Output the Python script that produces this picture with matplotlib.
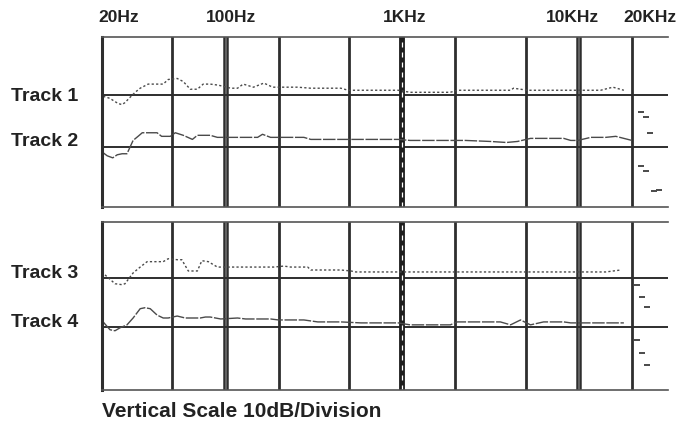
import numpy as np
import matplotlib
matplotlib.use('Agg')
import matplotlib.pyplot as plt
from matplotlib.transforms import blended_transform_factory

# frequency response readings, dB relative to each track's reference line
track1_f = [20.3, 21.4, 22.2, 24.7, 26, 27, 28.8, 30.8, 32.9, 36.5, 40, 44.4, 47.4, 53.3, 57.7,
            63.2, 69.3, 74.8, 82, 91, 107, 117, 126, 144, 165, 185, 214, 256, 304, 369, 450,
            495, 547, 712, 950, 1110, 1443, 1875, 2054, 2600, 3600, 4110, 4270, 5130, 6930,
            9000, 10680, 13300, 15600, 18000]
track1_db = [-0.2, -0.4, -0.6, -1.6, -1.8, -1.4, -0.4, 0.6, 1.4, 2.2, 2.2, 2.2, 3.1, 3.3, 2.7,
             1.2, 1.2, 2.2, 2.2, 2.0, 1.4, 1.4, 2.2, 1.6, 2.4, 1.6, 1.6, 1.6, 1.4, 1.4, 1.4,
             1.0, 1.0, 1.0, 1.0, 0.6, 0.6, 0.6, 1.0, 1.0, 1.0, 1.0, 1.4, 1.0, 1.0,
             1.0, 1.0, 1.0, 1.6, 1.0]
track1_tail_f = [22500, 24000, 25300]
track1_tail_db = [-3.3, -4.3, -7.3]

track2_f = [20.3, 21.4, 23, 24.4, 26, 27.7, 30, 32, 33.8, 37.5, 41, 43.5, 48.7, 52, 57.7, 65,
            69.3, 77, 82, 90, 97, 111, 130, 152, 162, 180, 220, 256, 278, 304, 369, 450, 547,
            712, 950, 1110, 1443, 1875, 2280, 3160, 3900, 4500, 5330, 6930, 8220, 9000, 9870,
            11700, 14200, 16200, 18000, 20000]
track2_db = [-1.2, -1.8, -2.2, -1.6, -1.4, -1.4, 1.2, 2.0, 2.7, 2.7, 2.7, 2.0, 2.0, 2.7, 2.2, 1.4,
             2.2, 2.2, 2.2, 1.8, 1.8, 1.8, 1.8, 1.8, 2.4, 1.8, 1.8, 1.8, 1.8, 1.4, 1.4, 1.4, 1.4,
             1.4, 1.4, 1.2, 1.2, 1.2, 1.2, 1.0, 0.8, 1.0, 1.6, 1.6, 1.6, 1.2, 1.2,
             1.8, 1.8, 2.0, 1.6, 1.2]
track2_tail_f = [22500, 24000, 26700, 28500]
track2_tail_db = [-3.7, -4.7, -8.6, -8.4]

track3_f = [20.8, 23.7, 26, 27, 30, 32.9, 36, 40, 44.4, 47.4, 53.3, 56.6, 61.6, 69.3, 73.5, 80,
            90, 97, 111, 119, 133, 158, 188, 214, 234, 292, 304, 369, 450, 513, 547, 712, 950,
            1110, 1875, 2135, 3160, 4680, 5330, 7400, 9870, 11700, 14200, 17300]
track3_db = [0.6, -1.2, -1.4, -1.2, 1.0, 2.2, 3.3, 3.3, 3.3, 3.9, 3.7, 3.7, 1.4, 1.4, 3.5, 3.3,
             2.2, 2.2, 2.2, 2.2, 2.2, 2.2, 2.2, 2.4, 2.2, 2.2, 1.6, 1.6, 1.6, 1.4, 1.2, 1.2, 1.2,
             1.2, 1.2, 1.2, 1.2, 1.2, 1.2, 1.2, 1.2, 1.2, 1.2, 1.6]
track3_tail_f = [21400, 22700, 24300]
track3_tail_db = [-1.4, -3.9, -5.9]

track4_f = [20.3, 22.2, 23.7, 25.3, 27.7, 30, 32.9, 35, 37.5, 41, 44.4, 47.4, 53.3, 59.2, 72,
            77, 82, 94, 117, 130, 180, 200, 278, 333, 450, 585, 950, 1110, 1875, 2054, 3600,
            4110, 4680, 5330, 6320, 8220, 9000, 9870, 11700, 14200, 18000]
track4_db = [1.0, -0.6, -0.8, -0.2, 0.4, 1.8, 3.7, 3.9, 3.7, 2.4, 1.8, 1.8, 2.2, 1.8, 1.8,
             2.0, 2.0, 1.6, 1.8, 1.6, 1.6, 1.4, 1.4, 1.0, 1.0, 0.8, 0.8, 0.4, 0.4, 1.0, 1.0,
             0.4, 1.4, 0.4, 1.0, 1.0, 0.8, 0.8, 0.8, 0.8, 0.8]
track4_tail_f = [21400, 22700, 24300]
track4_tail_db = [-2.7, -5.3, -7.8]

track_names = ['Track 1', 'Track 2', 'Track 3', 'Track 4']
track_ref_db = [0, -10, 0, -10]

freq_labels = ['20Hz', '100Hz', '1KHz', '10KHz', '20KHz']
freq_label_pos = [25, 108, 1030, 9250, 25300]
single_lines = [50, 200, 500, 2000, 5000, 20000]
double_lines = [100, 10000]
thick_lines = [1000]

grid_c = '#2e2e2e'
trace_c = '#4a4a4a'
font = 'Liberation Sans'

fig = plt.figure(figsize=(6.79, 4.22), dpi=100)
ax_top = fig.add_axes([102 / 679, 1 - 207 / 422, 566 / 679, 170 / 422])
ax_bot = fig.add_axes([102 / 679, 1 - 390 / 422, 566 / 679, 168 / 422])


def setup(ax, ylim):
    ax.set_xscale('log')
    ax.set_xlim(20, 32000)
    ax.set_ylim(*ylim)
    ax.set_xticks([])
    ax.set_yticks([])
    ax.minorticks_off()
    ax.xaxis.set_minor_locator(matplotlib.ticker.NullLocator())
    ax.spines['right'].set_visible(False)
    for s in ['top', 'bottom']:
        ax.spines[s].set_color('#555555')
        ax.spines[s].set_linewidth(1.2)
    ax.spines['left'].set_color(grid_c)
    ax.spines['left'].set_linewidth(2.2)
    for y in [0, -10]:
        ax.axhline(y, color=grid_c, lw=1.4, zorder=1)
    for f in single_lines:
        ax.axvline(f, color=grid_c, lw=2.0, zorder=1)
    for f in double_lines:
        ax.axvline(f / 1.018, color=grid_c, lw=1.8, zorder=1)
        ax.axvline(f * 1.018, color=grid_c, lw=1.8, zorder=1)
    for f in thick_lines:
        ax.axvline(f, color='#1e1e1e', lw=4.2, zorder=1)
        ax.axvline(f, color='white', lw=0.9, ls=(0, (4, 4)), zorder=1)


setup(ax_top, (-21.8, 11.4))
setup(ax_bot, (-22.9, 11.4))

dotted = (0, (1.6, 1.6))
solid = (0, (9, 1.2))

panels = [(ax_top, track1_f, track1_db, track1_tail_f, track1_tail_db, track_ref_db[0], dotted),
          (ax_top, track2_f, track2_db, track2_tail_f, track2_tail_db, track_ref_db[1], solid),
          (ax_bot, track3_f, track3_db, track3_tail_f, track3_tail_db, track_ref_db[2], dotted),
          (ax_bot, track4_f, track4_db, track4_tail_f, track4_tail_db, track_ref_db[3], solid)]

for ax, f, db, tf, tdb, ref, ls in panels:
    ax.plot(f, np.array(db) + ref, color=trace_c, lw=1.0, ls=ls, zorder=2)
    ax.plot(tf, np.array(tdb) + ref, ls='none', marker='_', ms=4, mew=1.4,
            color=trace_c, zorder=2)

# track labels on the left
label_base = [101, 146, 278, 327]
for name, yb in zip(track_names, label_base):
    fig.text(11 / 679, 1 - yb / 422, name, fontsize=14, fontweight='bold',
             family=font, color='#222222', va='baseline', ha='left')

# frequency labels on top
tr = blended_transform_factory(ax_top.transData, fig.transFigure)
for lab, f in zip(freq_labels, freq_label_pos):
    ax_top.text(f, 1 - 17 / 422, lab, transform=tr, ha='center', va='center',
                fontsize=12.5, fontweight='bold', family=font, color='#222222')

fig.text(102 / 679, 1 - 417 / 422, 'Vertical Scale 10dB/Division', fontsize=15,
         fontweight='bold', family=font, color='#222222', va='baseline', ha='left')

fig.savefig('out.png', dpi=100, facecolor='white')
